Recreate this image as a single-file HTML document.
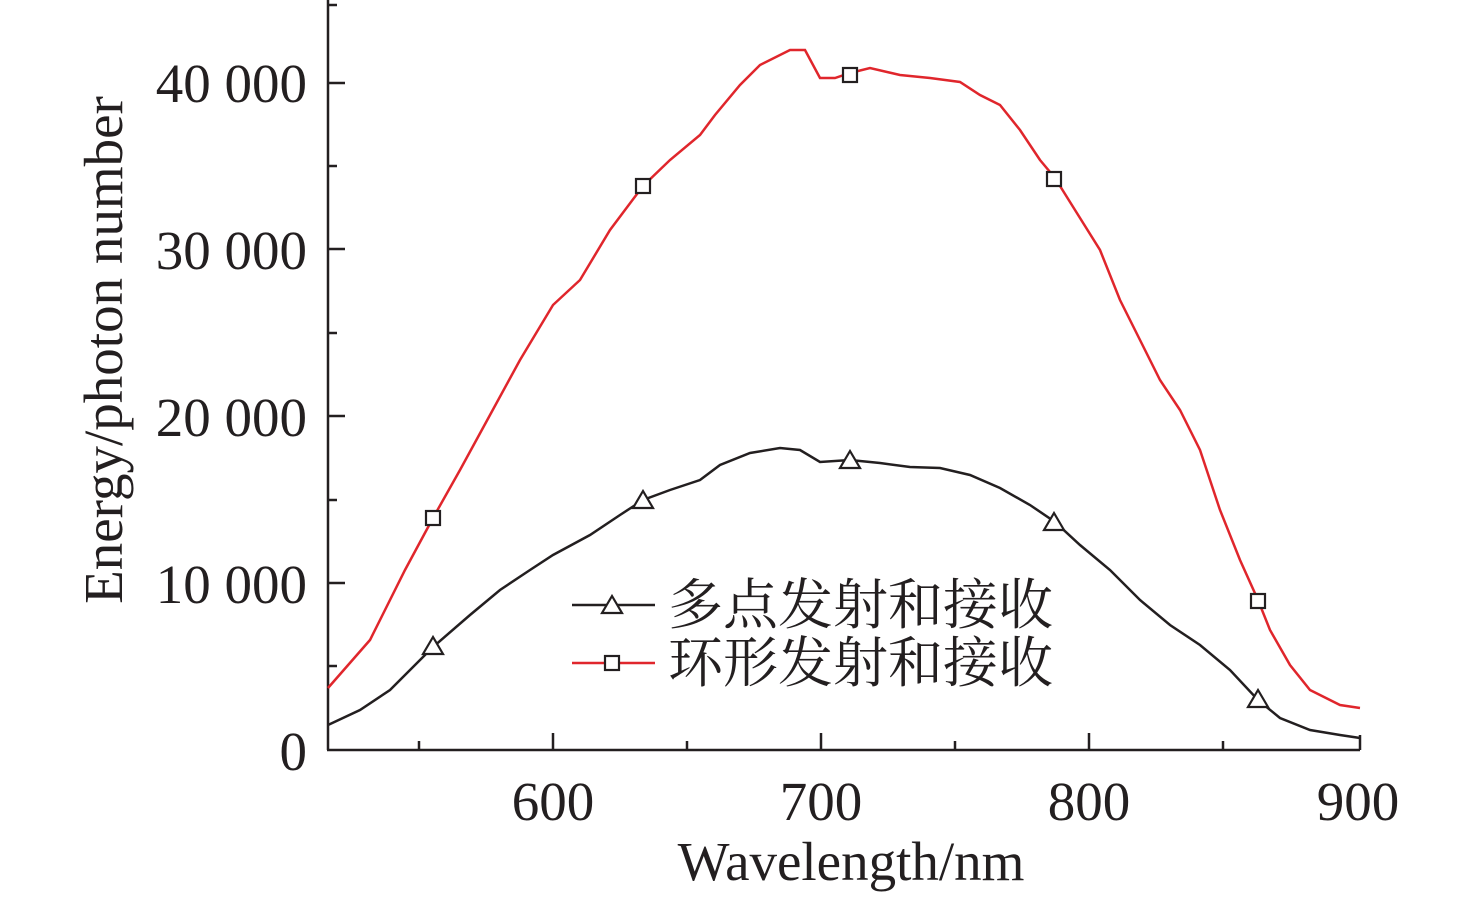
<!DOCTYPE html>
<html><head><meta charset="utf-8"><style>
html,body{margin:0;padding:0;background:#fff;}
svg{display:block;}
text{font-family:"Liberation Serif","Noto Serif CJK SC",serif;fill:#231f20;}
</style></head><body>
<svg width="1476" height="899" viewBox="0 0 1476 899">
<g stroke="#231f20" stroke-width="2.5" fill="none">
<line x1="328" y1="0" x2="328" y2="750"/>
<line x1="327" y1="750" x2="1360" y2="750"/>
<line x1="1360" y1="750" x2="1360" y2="735"/>
<line x1="553" y1="750" x2="553" y2="733"/>
<line x1="821" y1="750" x2="821" y2="733"/>
<line x1="1089" y1="750" x2="1089" y2="733"/>
<line x1="419" y1="750" x2="419" y2="741"/>
<line x1="687" y1="750" x2="687" y2="741"/>
<line x1="955" y1="750" x2="955" y2="741"/>
<line x1="1223" y1="750" x2="1223" y2="741"/>
<line x1="328" y1="583" x2="345" y2="583"/>
<line x1="328" y1="416" x2="345" y2="416"/>
<line x1="328" y1="249" x2="345" y2="249"/>
<line x1="328" y1="83" x2="345" y2="83"/>
<line x1="328" y1="666" x2="337" y2="666"/>
<line x1="328" y1="500" x2="337" y2="500"/>
<line x1="328" y1="333" x2="337" y2="333"/>
<line x1="328" y1="166" x2="337" y2="166"/>
<line x1="328" y1="5" x2="337" y2="5"/>
</g>
<g font-size="55" text-anchor="end">
<text x="307" y="770">0</text>
<text x="307" y="603">10 000</text>
<text x="307" y="436">20 000</text>
<text x="307" y="269">30 000</text>
<text x="307" y="102">40 000</text>
</g>
<g font-size="55" text-anchor="middle">
<text x="553" y="820">600</text>
<text x="821" y="820">700</text>
<text x="1089" y="820">800</text>
<text x="1358" y="820">900</text>
<text x="851" y="880">Wavelength/nm</text>
<text transform="translate(122,350) rotate(-90)">Energy/photon number</text>
</g>
<polyline fill="none" stroke="#e0262c" stroke-width="2.5" points="328,688 370,640 405,570 433,518 460,470 490,415 520,360 553,305 580,280 610,230 643,186 670,160 700,135 715,115 740,85 760,65 790,50 805,50 820,78 835,78 850,73 870,68 900,75 930,78 960,82 980,95 1000,105 1020,130 1040,160 1055,178 1075,210 1100,250 1120,300 1140,340 1160,380 1180,410 1200,450 1220,510 1240,560 1258,600 1270,630 1290,665 1310,690 1340,705 1360,708"/>
<polyline fill="none" stroke="#231f20" stroke-width="2.5" points="328,725 360,710 390,690 433,647 470,615 500,590 530,570 553,555 590,535 620,515 643,500 670,490 700,480 720,465 750,453 780,448 800,450 820,462 850,460 880,463 910,467 940,468 970,475 1000,488 1030,505 1055,522 1080,545 1110,570 1140,600 1170,625 1200,645 1230,670 1258,700 1280,718 1310,730 1340,735 1360,738"/>
<g fill="#fff" stroke="#231f20" stroke-width="2.2">
<rect x="426" y="511" width="14" height="14"/>
<rect x="636" y="179" width="14" height="14"/>
<rect x="843" y="68" width="14" height="14"/>
<rect x="1047" y="172" width="14" height="14"/>
<rect x="1251" y="594" width="14" height="14"/>
<polygon points="433,637 423,654 443,654"/>
<polygon points="643,491 633,508 653,508"/>
<polygon points="850,451 840,468 860,468"/>
<polygon points="1054,513 1044,530 1064,530"/>
<polygon points="1258,690 1248,707 1268,707"/>
</g>
<line x1="572" y1="605" x2="655" y2="605" stroke="#231f20" stroke-width="2.5"/>
<polygon points="612,596 602,613 622,613" fill="#fff" stroke="#231f20" stroke-width="2.2"/>
<line x1="572" y1="663" x2="655" y2="663" stroke="#e0262c" stroke-width="2.5"/>
<rect x="605" y="656" width="14" height="14" fill="#fff" stroke="#231f20" stroke-width="2.2"/>
<g font-size="55">
<text x="668" y="624">多点发射和接收</text>
<text x="668" y="682">环形发射和接收</text>
</g>
</svg>
</body></html>
